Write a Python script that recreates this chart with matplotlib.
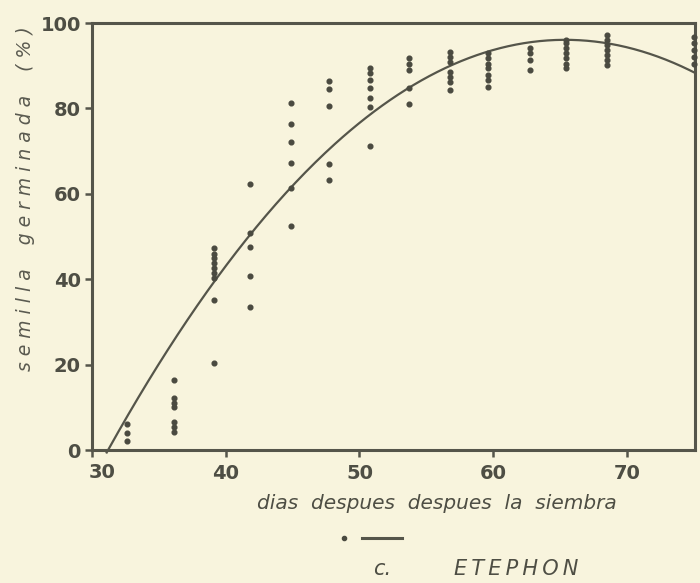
"""
Germinacion vs dias despues de la siembra, tratamiento c. ETEPHON
Puntos = observaciones, linea = ajuste cuadratico.
"""

import numpy as np
import matplotlib.pyplot as plt

# %% data
day_33 = [6, 4, 2]
day_36 = [16.4, 12.1, 10.9, 10.1, 6.6, 5.5, 4.3]
day_39 = [47.2, 46.0, 44.9, 43.7, 42.6, 41.4, 40.2, 35.1, 20.3]
day_42 = [62.3, 50.8, 47.5, 40.7, 33.4]
day_45 = [81.3, 76.3, 72.2, 67.3, 61.4, 52.5]
day_48 = [86.4, 84.5, 80.6, 67.1, 63.2]
day_51 = [89.4, 88.2, 86.7, 84.7, 82.4, 80.4, 71.2]
day_54 = [91.7, 90.5, 89.0, 84.7, 81.0]
day_57 = [93.3, 92.1, 90.9, 88.6, 87.4, 86.3, 84.3]
day_60 = [92.9, 91.7, 90.5, 89.4, 87.8, 86.7, 85.1]
day_63 = [94.1, 92.9, 91.3, 89.0]
day_66 = [96.0, 95.3, 94.1, 92.9, 91.7, 90.5, 89.4]
day_69 = [97.2, 96.0, 94.8, 93.7, 92.5, 91.3, 90.2]
day_75 = [96.8, 95.3, 93.7, 92.1, 90.5]

days = [32.6, 36.1, 39.1, 41.8, 44.9, 47.7, 50.8, 53.7, 56.75, 59.6, 62.75, 65.45, 68.5, 75]
groups = [day_33, day_36, day_39, day_42, day_45, day_48, day_51, day_54,
          day_57, day_60, day_63, day_66, day_69, day_75]

# quadratic fit  y = b0 + b1*x + b2*x^2
b0, b1, b2 = -255.4, 10.75, -0.0822

x_ticks = [30, 40, 50, 60, 70]
y_ticks = [0, 20, 40, 60, 80, 100]

# %% plot
paper = '#f8f4dd'
ink = '#55554a'
txt = '#4e4e44'

fig = plt.figure(figsize=(7, 5.83), dpi=100, facecolor=paper)
ax = fig.add_axes([0.1314, 0.2281, 0.8616, 0.7324], facecolor=paper)

xs = np.concatenate([[d] * len(g) for d, g in zip(days, groups)])
ys = np.concatenate(groups)
ax.plot(xs, ys, 'o', color='#4a4a40', markersize=3.4, clip_on=False, zorder=3)

xc = np.linspace(31.1, 75.1, 300)
ax.plot(xc, b0 + b1 * xc + b2 * xc**2, color=ink, linewidth=1.6, clip_on=False)

ax.set_xlim(30.25, 75.1)
ax.set_ylim(0, 100)
ax.set_xticks(x_ticks)
ax.set_yticks(y_ticks)
for s in ax.spines.values():
    s.set_color(ink)
    s.set_linewidth(2.2)
ax.tick_params(direction='out', length=5, width=1.8, color=ink,
               labelsize=14, labelcolor=txt)
ax.tick_params(axis='x', pad=5)
ax.tick_params(axis='y', pad=3)
for lab in ax.get_xticklabels() + ax.get_yticklabels():
    lab.set_fontweight('bold')

# the 30 label sits just inside the left edge in the original
ax.get_xticklabels()[0].set_visible(False)
fig.text(0.146, 0.2055, '30', fontsize=14, fontweight='bold', color=txt,
         ha='center', va='top')

fig.text(0.036, 0.66, 's e m i l l a    g e r m i n a d a    ( % )', rotation=90,
         fontsize=13.5, style='italic', color='#5a5a50', ha='center', va='center')
fig.text(0.624, 0.137, 'dias  despues  despues  la  siembra', fontsize=14.5,
         style='italic', color=txt, ha='center', va='center')

# legend mark: dot and line
ax.plot([0.491], [0.077], 'o', color='#4a4a40', markersize=3, transform=fig.transFigure,
        clip_on=False)
ax.plot([0.517, 0.574], [0.078, 0.078], color=ink, linewidth=2.2,
        transform=fig.transFigure, clip_on=False)
fig.text(0.546, 0.013, 'c.', fontsize=15, style='italic', color=txt,
         ha='center', va='baseline')
fig.text(0.737, 0.013, '\u2009'.join('ETEPHON'), fontsize=15, style='italic', color=txt,
         ha='center', va='baseline')

plt.savefig('out.png', dpi=100, facecolor=paper)
